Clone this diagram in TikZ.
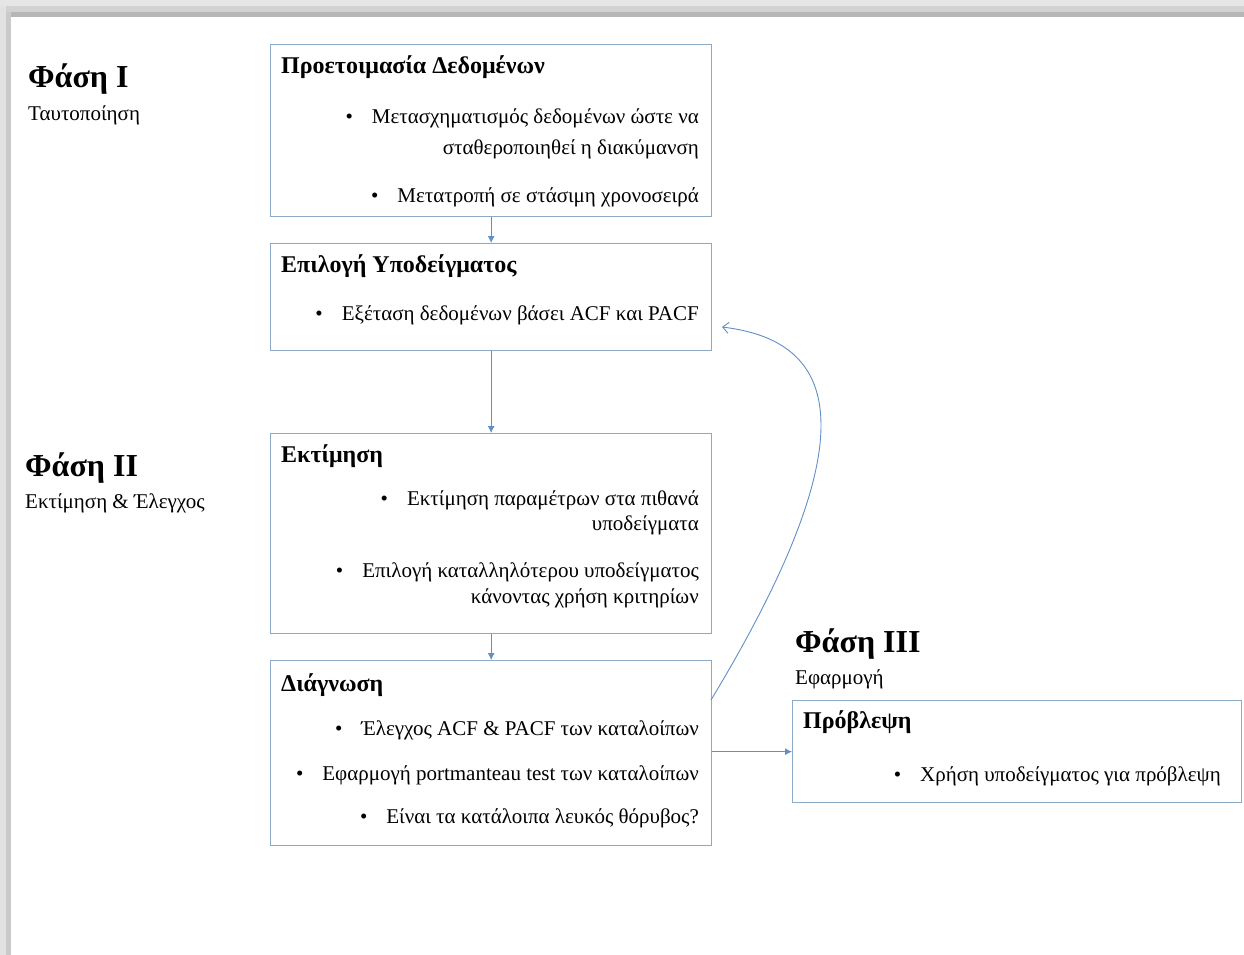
\documentclass[tikz,border=0pt]{standalone}
\usepackage{fontspec}
\setmainfont{Liberation Serif}
\usetikzlibrary{arrows.meta}
\definecolor{boxc}{HTML}{8DA9C8}
\definecolor{arrc}{HTML}{5F8FC8}
\definecolor{sha}{HTML}{E6E6E6}
\definecolor{shb}{HTML}{D2D2D2}
\definecolor{shc}{HTML}{B6B6B6}
\newcommand{\bul}{•\hspace{19pt}}
\begin{document}
\begin{tikzpicture}[x=1pt,y=-1pt,
  box/.style={draw=boxc, line width=1.3pt, anchor=north west, inner sep=0pt},
  ln/.style={anchor=base east, inner sep=0pt, font=\fontsize{21}{24}\selectfont},
  ttl/.style={anchor=base west, inner sep=0pt, font=\fontsize{24}{28}\selectfont\bfseries},
  phase/.style={anchor=base west, inner sep=0pt, font=\fontsize{32}{36}\selectfont\bfseries},
  phsub/.style={anchor=base west, inner sep=0pt, font=\fontsize{21}{24}\selectfont},
  arr/.style={draw=arrc, line width=0.9pt, -{Latex[length=7pt,width=7pt]}},
  carr/.style={draw=arrc, line width=0.9pt, -{Straight Barb[length=6pt,width=11pt]}}
]
\useasboundingbox (0,0) rectangle (1244,955);
% shadow frame
\fill[sha] (0,0) rectangle (1244,6);
\fill[shb] (0,6) rectangle (1244,12);
\fill[shc] (11,12) rectangle (1244,17);
\fill[sha!80!shb] (0,6) rectangle (6,955);
\fill[shb!70!shc] (6,12) rectangle (11,955);

% phase labels
\node[phase] (p1) at (28,88) {Φάση I};
\node[phsub] (p1s) at (28,121) {Ταυτοποίηση};
\node[phase] (p2) at (25,476) {Φάση II};
\node[phsub] (p2s) at (25,508) {Εκτίμηση \& Έλεγχος};
\node[phase] (p3) at (795,652) {Φάση III};
\node[phsub] (p3s) at (795,684) {Εφαρμογή};

% boxes
\node[box, minimum width=441pt, minimum height=172pt] (b1) at (270,44) {};
\node[box, minimum width=441pt, minimum height=107pt] (b2) at (270,243) {};
\node[box, minimum width=441pt, minimum height=200pt] (b3) at (270,433) {};
\node[box, minimum width=441pt, minimum height=185pt] (b4) at (270,660) {};
\node[box, minimum width=449pt, minimum height=102pt] (b5) at (792,700) {};

% box 1
\node[ttl] (t1) at (281,74) {Προετοιμασία Δεδομένων};
\node[ln] (l11) at (699,124) {\bul Μετασχηματισμός δεδομένων ώστε να};
\node[ln] (l12) at (699,154) {σταθεροποιηθεί η διακύμανση};
\node[ln] (l13) at (699,202) {\bul Μετατροπή σε στάσιμη χρονοσειρά};

% box 2
\node[ttl] (t2) at (281,272) {Επιλογή Υποδείγματος};
\node[ln] (l21) at (699,320) {\bul Εξέταση δεδομένων βάσει ACF και PACF};

% box 3
\node[ttl] (t3) at (281,462) {Εκτίμηση};
\node[ln] (l31) at (699,505) {\bul Εκτίμηση παραμέτρων στα πιθανά};
\node[ln] (l32) at (699,530) {υποδείγματα};
\node[ln] (l33) at (699,577) {\bul Επιλογή καταλληλότερου υποδείγματος};
\node[ln] (l34) at (699,603) {κάνοντας χρήση κριτηρίων};

% box 4
\node[ttl] (t4) at (281,691) {Διάγνωση};
\node[ln] (l41) at (699,735) {\bul Έλεγχος ACF \& PACF των καταλοίπων};
\node[ln] (l42) at (699,780) {\bul Εφαρμογή portmanteau test των καταλοίπων};
\node[ln] (l43) at (699,823) {\bul Είναι τα κατάλοιπα λευκός θόρυβος?};

% box 5
\node[ttl] (t5) at (803,728) {Πρόβλεψη};
\node[ln] (l51) at (1221,781) {\bul Χρήση υποδείγματος για πρόβλεψη};

% connectors
\draw[arr] (b1.south) -- (b2.north);
\draw[arr] (b2.south) -- (b3.north);
\draw[arr] (b3.south) -- (b4.north);
\draw[arr] (b4.east |- b5.west) -- (b5.west);
\coordinate (cs) at (711,700);
\coordinate (ce) at (722,327);
\draw[carr] (cs) .. controls (880,420) and (830,340) .. (ce);
\end{tikzpicture}
\end{document}
